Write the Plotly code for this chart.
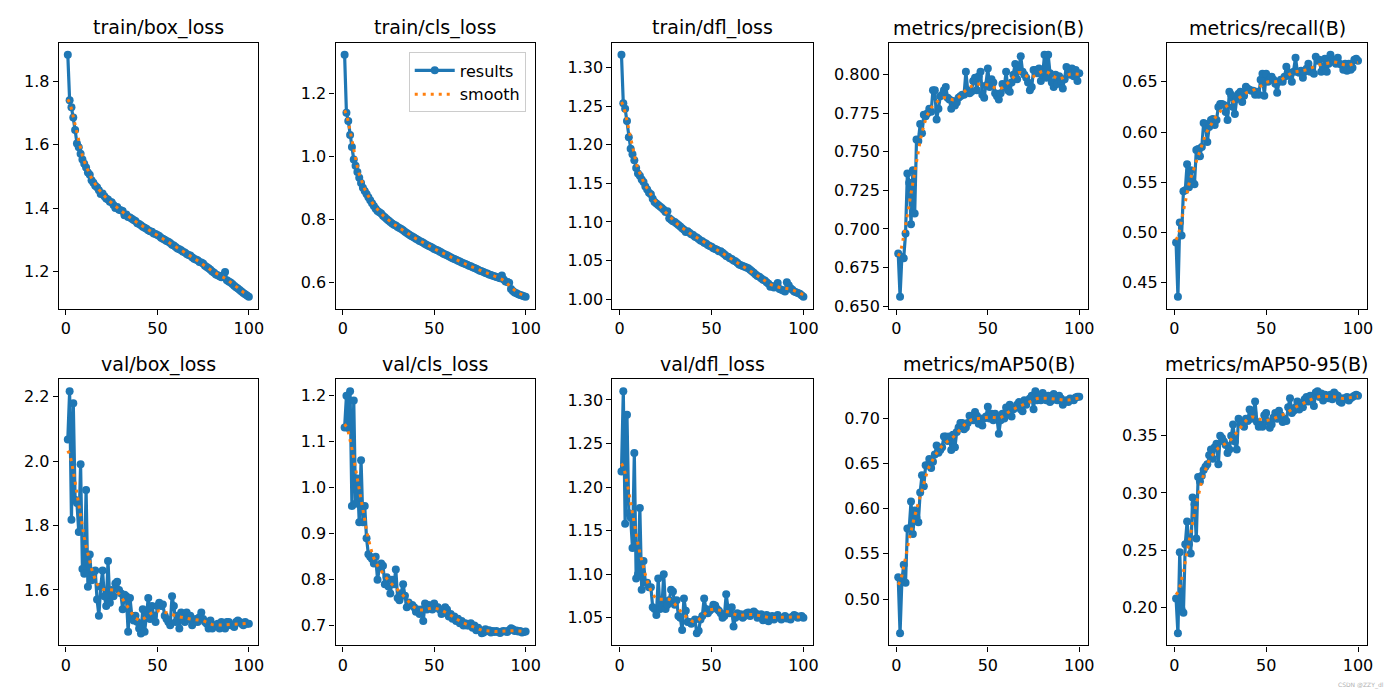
import numpy as np
import plotly.graph_objects as go

epochs = list(range(1, 101))

titles = ["train/box_loss", "train/cls_loss", "train/dfl_loss", "metrics/precision(B)", "metrics/recall(B)",
          "val/box_loss", "val/cls_loss", "val/dfl_loss", "metrics/mAP50(B)", "metrics/mAP50-95(B)"]

train_box_loss = [
    1.884, 1.740, 1.718, 1.686, 1.646, 1.604, 1.592, 1.571, 1.553, 1.540,
    1.528, 1.512, 1.505, 1.488, 1.480, 1.470, 1.466, 1.456, 1.444, 1.446,
    1.437, 1.430, 1.427, 1.420, 1.418, 1.410, 1.400, 1.403, 1.395, 1.393,
    1.391, 1.377, 1.380, 1.372, 1.370, 1.366, 1.362, 1.359, 1.352, 1.350,
    1.346, 1.341, 1.338, 1.335, 1.330, 1.327, 1.325, 1.320, 1.318, 1.315,
    1.312, 1.306, 1.303, 1.300, 1.296, 1.294, 1.290, 1.284, 1.282, 1.277,
    1.272, 1.270, 1.267, 1.262, 1.260, 1.255, 1.252, 1.250, 1.245, 1.240,
    1.238, 1.235, 1.230, 1.228, 1.225, 1.218, 1.214, 1.210, 1.205, 1.200,
    1.196, 1.190, 1.188, 1.185, 1.182, 1.188, 1.198, 1.172, 1.168, 1.165,
    1.160, 1.155, 1.150, 1.146, 1.141, 1.137, 1.132, 1.128, 1.124, 1.120]

train_cls_loss = [
    1.324, 1.139, 1.113, 1.068, 1.030, 0.990, 0.970, 0.950, 0.932, 0.915,
    0.900, 0.890, 0.880, 0.870, 0.860, 0.851, 0.842, 0.833, 0.826, 0.822,
    0.818, 0.811, 0.806, 0.801, 0.796, 0.791, 0.786, 0.782, 0.780, 0.775,
    0.772, 0.769, 0.765, 0.760, 0.756, 0.752, 0.748, 0.745, 0.742, 0.738,
    0.735, 0.731, 0.728, 0.725, 0.721, 0.718, 0.715, 0.712, 0.709, 0.705,
    0.703, 0.700, 0.697, 0.694, 0.690, 0.688, 0.685, 0.682, 0.679, 0.676,
    0.673, 0.671, 0.668, 0.665, 0.662, 0.660, 0.657, 0.655, 0.652, 0.650,
    0.647, 0.645, 0.642, 0.639, 0.636, 0.634, 0.632, 0.629, 0.627, 0.624,
    0.622, 0.620, 0.618, 0.616, 0.614, 0.612, 0.621, 0.608, 0.602, 0.600,
    0.598, 0.578, 0.571, 0.567, 0.564, 0.561, 0.559, 0.557, 0.555, 0.553]

train_dfl_loss = [
    1.317, 1.254, 1.247, 1.231, 1.210, 1.195, 1.188, 1.180, 1.170, 1.163,
    1.160, 1.155, 1.152, 1.146, 1.142, 1.138, 1.136, 1.130, 1.126, 1.124,
    1.122, 1.120, 1.118, 1.116, 1.113, 1.114, 1.105, 1.103, 1.101, 1.100,
    1.098, 1.096, 1.094, 1.092, 1.090, 1.087, 1.088, 1.086, 1.084, 1.083,
    1.081, 1.080, 1.078, 1.076, 1.075, 1.073, 1.072, 1.070, 1.069, 1.068,
    1.066, 1.065, 1.064, 1.062, 1.062, 1.060, 1.058, 1.056, 1.055, 1.053,
    1.052, 1.050, 1.049, 1.047, 1.045, 1.044, 1.043, 1.042, 1.041, 1.040,
    1.038, 1.036, 1.034, 1.032, 1.030, 1.029, 1.027, 1.025, 1.024, 1.022,
    1.020, 1.016, 1.017, 1.015, 1.016, 1.021, 1.013, 1.012, 1.011, 1.010,
    1.022, 1.018, 1.014, 1.012, 1.010, 1.009, 1.008, 1.007, 1.005, 1.003]

precision = [
    0.684, 0.656, 0.682, 0.681, 0.697, 0.736, 0.730, 0.703, 0.738, 0.710,
    0.758, 0.757, 0.768, 0.762, 0.774, 0.773, 0.775, 0.778, 0.776, 0.790,
    0.790, 0.771, 0.778, 0.786, 0.787, 0.790, 0.792, 0.785, 0.784, 0.778,
    0.783, 0.780, 0.782, 0.785, 0.786, 0.787, 0.787, 0.802, 0.790, 0.788,
    0.789, 0.796, 0.798, 0.790, 0.799, 0.802, 0.787, 0.785, 0.793, 0.804,
    0.792, 0.797, 0.795, 0.788, 0.786, 0.784, 0.788, 0.794, 0.792, 0.802,
    0.790, 0.789, 0.795, 0.800, 0.807, 0.797, 0.805, 0.812, 0.802, 0.800,
    0.798, 0.795, 0.790, 0.792, 0.803, 0.803, 0.801, 0.804, 0.796, 0.800,
    0.813, 0.798, 0.813, 0.801, 0.795, 0.792, 0.800, 0.794, 0.799, 0.796,
    0.791, 0.797, 0.805, 0.803, 0.800, 0.804, 0.799, 0.803, 0.796, 0.801]

recall = [
    0.490, 0.436, 0.510, 0.497, 0.541, 0.542, 0.568, 0.545, 0.562, 0.550,
    0.548, 0.582, 0.583, 0.576, 0.585, 0.609, 0.608, 0.590, 0.605, 0.612,
    0.613, 0.607, 0.612, 0.625, 0.628, 0.628, 0.627, 0.620, 0.612, 0.640,
    0.637, 0.625, 0.618, 0.633, 0.638, 0.640, 0.630, 0.636, 0.645, 0.643,
    0.642, 0.641, 0.641, 0.637, 0.640, 0.637, 0.652, 0.658, 0.636, 0.658,
    0.650, 0.652, 0.655, 0.652, 0.648, 0.639, 0.650, 0.652, 0.650, 0.655,
    0.665, 0.656, 0.659, 0.650, 0.660, 0.674, 0.660, 0.659, 0.661, 0.654,
    0.660, 0.663, 0.668, 0.660, 0.662, 0.658, 0.675, 0.671, 0.672, 0.660,
    0.665, 0.673, 0.660, 0.668, 0.677, 0.672, 0.670, 0.668, 0.674, 0.668,
    0.667, 0.662, 0.668, 0.661, 0.668, 0.662, 0.664, 0.672, 0.673, 0.671]

val_box_loss = [
    2.067, 2.217, 1.818, 2.180, 1.880, 1.870, 1.780, 1.990, 1.665, 1.650,
    1.910, 1.610, 1.710, 1.630, 1.650, 1.660, 1.570, 1.520, 1.610, 1.660,
    1.580, 1.550, 1.690, 1.560, 1.600, 1.580, 1.620, 1.625, 1.600, 1.590,
    1.540, 1.585, 1.580, 1.470, 1.575, 1.520, 1.505, 1.520, 1.500, 1.480,
    1.465, 1.540, 1.470, 1.520, 1.575, 1.510, 1.550, 1.520, 1.500, 1.550,
    1.560, 1.550, 1.555, 1.520, 1.510, 1.500, 1.490, 1.580, 1.550, 1.500,
    1.520, 1.480, 1.530, 1.520, 1.500, 1.530, 1.510, 1.520, 1.490, 1.500,
    1.510, 1.500, 1.515, 1.530, 1.510, 1.500, 1.495, 1.480, 1.505, 1.480,
    1.490, 1.490, 1.495, 1.480, 1.500, 1.490, 1.480, 1.500, 1.500, 1.490,
    1.490, 1.485, 1.500, 1.505, 1.500, 1.495, 1.490, 1.500, 1.495, 1.495]

val_cls_loss = [
    1.131, 1.200, 1.130, 1.210, 0.960, 1.190, 0.965, 1.020, 0.925, 1.060,
    0.925, 0.960, 0.890, 0.855, 0.850, 0.845, 0.835, 0.850, 0.800, 0.825,
    0.835, 0.830, 0.790, 0.805, 0.785, 0.770, 0.800, 0.790, 0.822, 0.760,
    0.755, 0.770, 0.790, 0.765, 0.740, 0.750, 0.745, 0.745, 0.740, 0.730,
    0.735, 0.725, 0.735, 0.710, 0.748, 0.735, 0.745, 0.740, 0.735, 0.748,
    0.740, 0.740, 0.735, 0.725, 0.728, 0.740, 0.735, 0.720, 0.725, 0.715,
    0.720, 0.710, 0.715, 0.705, 0.710, 0.700, 0.705, 0.700, 0.700, 0.705,
    0.695, 0.700, 0.690, 0.695, 0.690, 0.683, 0.685, 0.692, 0.688, 0.690,
    0.685, 0.688, 0.686, 0.688, 0.686, 0.684, 0.687, 0.688, 0.687, 0.686,
    0.690, 0.694, 0.692, 0.688, 0.689, 0.687, 0.688, 0.685, 0.686, 0.687]

val_dfl_loss = [
    1.218, 1.310, 1.158, 1.283, 1.170, 1.165, 1.130, 1.239, 1.095, 1.100,
    1.176, 1.082, 1.115, 1.090, 1.090, 1.085, 1.085, 1.062, 1.060, 1.053,
    1.095, 1.060, 1.062, 1.100, 1.060, 1.065, 1.070, 1.082, 1.080, 1.065,
    1.070, 1.052, 1.050, 1.036, 1.072, 1.058, 1.045, 1.045, 1.043, 1.045,
    1.048, 1.032, 1.035, 1.048, 1.052, 1.072, 1.060, 1.055, 1.058, 1.060,
    1.065, 1.064, 1.060, 1.058, 1.055, 1.050, 1.052, 1.077, 1.060, 1.055,
    1.062, 1.040, 1.050, 1.055, 1.052, 1.054, 1.050, 1.052, 1.055, 1.056,
    1.052, 1.055, 1.057, 1.055, 1.050, 1.053, 1.054, 1.047, 1.050, 1.053,
    1.046, 1.050, 1.052, 1.048, 1.051, 1.053, 1.050, 1.048, 1.050, 1.052,
    1.049, 1.050, 1.048, 1.051, 1.053, 1.052, 1.050, 1.051, 1.052, 1.050]

mAP50 = [
    0.524, 0.462, 0.520, 0.538, 0.518, 0.578, 0.578, 0.608, 0.572, 0.598,
    0.590, 0.585, 0.618, 0.637, 0.625, 0.648, 0.648, 0.655, 0.645, 0.652,
    0.660, 0.670, 0.662, 0.665, 0.668, 0.680, 0.680, 0.675, 0.680, 0.665,
    0.682, 0.668, 0.685, 0.690, 0.695, 0.695, 0.688, 0.690, 0.695, 0.703,
    0.702, 0.698, 0.707, 0.703, 0.694, 0.700, 0.692, 0.700, 0.702, 0.713,
    0.700, 0.705, 0.698, 0.705, 0.700, 0.683, 0.698, 0.705, 0.700, 0.712,
    0.705, 0.715, 0.702, 0.710, 0.712, 0.715, 0.718, 0.710, 0.708, 0.720,
    0.715, 0.720, 0.722, 0.725, 0.710, 0.730, 0.720, 0.725, 0.720, 0.728,
    0.722, 0.720, 0.725, 0.718, 0.720, 0.727, 0.722, 0.720, 0.725, 0.722,
    0.715, 0.718, 0.720, 0.718, 0.722, 0.721, 0.720, 0.723, 0.724, 0.724]

mAP50_95 = [
    0.2075, 0.177, 0.248, 0.198, 0.195, 0.255, 0.275, 0.255, 0.247, 0.296,
    0.290, 0.260, 0.314, 0.310, 0.315, 0.320, 0.323, 0.325, 0.333, 0.338,
    0.330, 0.340, 0.343, 0.325, 0.350, 0.348, 0.345, 0.342, 0.335, 0.338,
    0.350, 0.360, 0.345, 0.338, 0.365, 0.362, 0.360, 0.358, 0.365, 0.363,
    0.373, 0.365, 0.370, 0.380, 0.362, 0.358, 0.360, 0.358, 0.368, 0.370,
    0.362, 0.357, 0.360, 0.366, 0.370, 0.365, 0.372, 0.368, 0.362, 0.365,
    0.363, 0.375, 0.383, 0.370, 0.372, 0.375, 0.380, 0.373, 0.378, 0.375,
    0.382, 0.384, 0.380, 0.385, 0.380, 0.376, 0.388, 0.389, 0.384, 0.387,
    0.381, 0.386, 0.385, 0.383, 0.386, 0.382, 0.388, 0.386, 0.385, 0.380,
    0.379, 0.383, 0.382, 0.384, 0.381, 0.383, 0.384, 0.385, 0.386, 0.385]

series = [train_box_loss, train_cls_loss, train_dfl_loss, precision, recall,
          val_box_loss, val_cls_loss, val_dfl_loss, mAP50, mAP50_95]

x_tick_vals = [0, 50, 100]
y_tick_vals = [
    [1.2, 1.4, 1.6, 1.8],
    [0.6, 0.8, 1.0, 1.2],
    [1.00, 1.05, 1.10, 1.15, 1.20, 1.25, 1.30],
    [0.650, 0.675, 0.700, 0.725, 0.750, 0.775, 0.800],
    [0.45, 0.50, 0.55, 0.60, 0.65],
    [1.6, 1.8, 2.0, 2.2],
    [0.7, 0.8, 0.9, 1.0, 1.1, 1.2],
    [1.05, 1.10, 1.15, 1.20, 1.25, 1.30],
    [0.50, 0.55, 0.60, 0.65, 0.70],
    [0.20, 0.25, 0.30, 0.35],
]
y_tick_text = [
    ["1.2", "1.4", "1.6", "1.8"],
    ["0.6", "0.8", "1.0", "1.2"],
    ["1.00", "1.05", "1.10", "1.15", "1.20", "1.25", "1.30"],
    ["0.650", "0.675", "0.700", "0.725", "0.750", "0.775", "0.800"],
    ["0.45", "0.50", "0.55", "0.60", "0.65"],
    ["1.6", "1.8", "2.0", "2.2"],
    ["0.7", "0.8", "0.9", "1.0", "1.1", "1.2"],
    ["1.05", "1.10", "1.15", "1.20", "1.25", "1.30"],
    ["0.50", "0.55", "0.60", "0.65", "0.70"],
    ["0.20", "0.25", "0.30", "0.35"],
]


def gaussian_smooth(y, sigma=3.0, truncate=4.0):
    y = np.asarray(y, dtype=float)
    r = int(truncate * sigma + 0.5)
    t = np.arange(-r, r + 1)
    k = np.exp(-0.5 * (t / sigma) ** 2)
    k /= k.sum()
    yp = np.pad(y, r, mode="symmetric")
    return np.convolve(yp, k, mode="valid")


W, H = 1400, 700
col_px = [(59, 259), (337, 537), (615, 816), (893, 1093), (1172, 1373)]
row_px = [(43, 312), (383, 652)]
title_px_y = [28, 368]

BLUE = "#1f77b4"
ORANGE = "#ff7f0e"
FONT = "DejaVu Sans"

fig = go.Figure()
layout = dict(
    width=W, height=H,
    margin=dict(l=0, r=0, t=0, b=0),
    paper_bgcolor="white", plot_bgcolor="white",
    font=dict(family=FONT, size=16, color="black"),
    showlegend=True,
    legend=dict(
        x=528 / W, y=1 - 53 / H, xanchor="right", yanchor="top",
        bgcolor="rgba(255,255,255,0.8)", bordercolor="#cccccc", borderwidth=1,
        font=dict(family=FONT, size=16, color="black"),
        tracegroupgap=0, itemwidth=40,
    ),
    annotations=[],
)

x_lo, x_hi = 1 - 0.05 * 99, 100 + 0.05 * 99

for i, y in enumerate(series):
    r, c = divmod(i, 5)
    n = i + 1
    xa = "x" if n == 1 else f"x{n}"
    ya = "y" if n == 1 else f"y{n}"
    ys = gaussian_smooth(y)
    fig.add_trace(go.Scatter(
        x=epochs, y=y, mode="lines+markers", name="results",
        line=dict(color=BLUE, width=3.2),
        marker=dict(color=BLUE, size=8),
        xaxis=xa, yaxis=ya, showlegend=(i == 1), legendrank=1,
    ))
    fig.add_trace(go.Scatter(
        x=epochs, y=ys, mode="lines", name="smooth",
        line=dict(color=ORANGE, width=3, dash="3px,5px"),
        xaxis=xa, yaxis=ya, showlegend=(i == 1), legendrank=2,
    ))
    lo = min(min(y), float(ys.min()))
    hi = max(max(y), float(ys.max()))
    pad = 0.05 * (hi - lo)
    x0, x1 = col_px[c]
    y0, y1 = row_px[r]
    axis_common = dict(
        showline=True, linecolor="black", linewidth=1.2, mirror=True,
        ticks="outside", ticklen=5, tickwidth=1.2, tickcolor="black",
        showgrid=False, zeroline=False,
        tickfont=dict(family=FONT, size=16, color="black"),
    )
    layout["xaxis" if n == 1 else f"xaxis{n}"] = dict(
        domain=[x0 / W, x1 / W], anchor=ya, range=[x_lo, x_hi],
        tickvals=x_tick_vals, **axis_common)
    layout["yaxis" if n == 1 else f"yaxis{n}"] = dict(
        domain=[1 - y1 / H, 1 - y0 / H], anchor=xa, range=[lo - pad, hi + pad],
        tickvals=y_tick_vals[i], ticktext=y_tick_text[i], **axis_common)
    layout["annotations"].append(dict(
        text=titles[i], xref="paper", yref="paper",
        x=(x0 + x1) / 2 / W, y=1 - title_px_y[r] / H,
        xanchor="center", yanchor="middle", showarrow=False,
        font=dict(family=FONT, size=19, color="black"),
    ))

layout["annotations"].append(dict(
    text="CSDN @ZZY_dl", xref="paper", yref="paper",
    x=1392 / W, y=1 - 692 / H, xanchor="right", yanchor="middle", showarrow=False,
    font=dict(family=FONT, size=6, color="#b0b0b0"),
))

fig.update_layout(**layout)
fig.write_html("out.html", config={"displayModeBar": False},
               post_script="document.body.style.margin='0';document.body.style.overflow='hidden';")
